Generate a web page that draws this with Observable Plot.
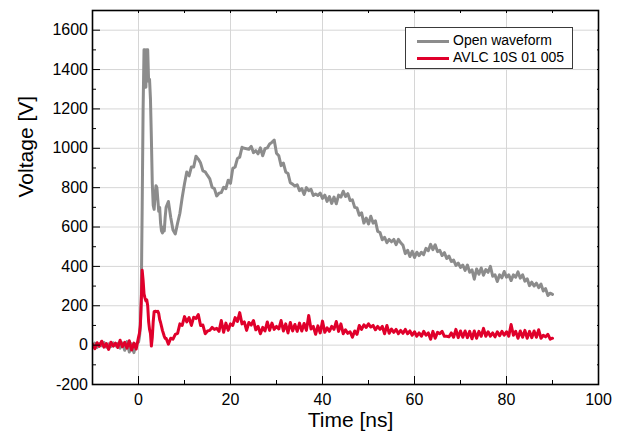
<!DOCTYPE html>
<html><head><meta charset="utf-8">
<script src="https://cdn.jsdelivr.net/npm/d3@7"></script>
<script src="https://cdn.jsdelivr.net/npm/@observablehq/plot@0.6"></script>
<style>
body{margin:0;background:#fff;font-family:"Liberation Sans",Arial,sans-serif;}
#wrap{position:relative;width:624px;height:440px;}
#chart svg{font-family:"Liberation Sans",Arial,sans-serif !important;}
#legend{position:absolute;left:405px;top:27px;width:166px;height:40px;border:1px solid #3a3a3a;background:#fff;font-size:14px;color:#000;}
#legend .row{position:absolute;left:0;height:17px;width:166px;}
#legend .sw{position:absolute;left:11px;width:32px;height:3px;}
#legend .lab{position:absolute;left:47px;white-space:nowrap;line-height:17px;}
</style></head>
<body><div id="wrap"><div id="chart"></div>
<div id="legend">
  <div class="row" style="top:4px"><div class="sw" style="top:8px;background:#8c8c8c"></div><div class="lab" id="lab0" style="top:0"></div></div>
  <div class="row" style="top:21px"><div class="sw" style="top:8px;background:#e0002b"></div><div class="lab" id="lab1" style="top:0"></div></div>
</div></div>
<script>
// time grids (ns)
const preTime = d3.range(-20, 0).map(i => i * 0.5);     // -10 .. -0.5
const spikeTime = d3.range(0, 30).map(i => i * 0.2);    // 0 .. 5.8
const postTime = d3.range(12, 181).map(i => i * 0.5);   // 6 .. 90

const seriesNames = ["Open waveform", "AVLC 10S 01 005"];

const openPre = [-5, 10, -12, 8, -3, 14, -10, 6, -8, 12, -4, 9, -15, 11, -26, 18, -35, 7, -38, 5];
const openSpike = [15, 40, 90, 250, 700, 1200, 1500, 1500, 1310, 1500,
  1500, 1340, 1350, 1250, 1050, 820, 710, 690, 760, 810,
  800, 740, 680, 700, 620, 580, 570, 600, 580, 650];
const openPost = [
  700, 730, 650, 585, 565, 620, 670, 750, 820, 880,
  860, 905, 905, 960, 945, 925, 885, 880, 862, 845,
  802, 795, 758, 772, 775, 802, 795, 838, 822, 898,
  905, 948, 955, 1005, 1000, 998, 995, 1010, 978, 988,
  972, 1002, 962, 998, 1002, 1022, 1030, 1042, 975, 962,
  912, 925, 880, 872, 825, 818, 808, 815, 785, 795,
  765, 800, 785, 792, 760, 768, 760, 772, 745, 762,
  730, 755, 720, 752, 718, 762, 752, 782, 755, 770,
  735, 738, 700, 697, 660, 672, 620, 645, 615, 655,
  620, 632, 578, 572, 535, 548, 520, 537, 525, 537,
  510, 537, 520, 507, 465, 482, 450, 477, 445, 472,
  455, 472, 460, 492, 480, 512, 485, 510, 475, 482,
  455, 470, 440, 452, 425, 432, 405, 417, 395, 407,
  380, 407, 370, 382, 335, 387, 360, 392, 355, 384,
  370, 400, 350, 357, 323, 357, 342, 374, 345, 357,
  328, 357, 345, 372, 340, 357, 325, 337, 302, 320,
  300, 315, 292, 310, 275, 287, 252, 264, 258];

const avlcPre = [5, -18, 12, -6, 20, -10, 8, -22, 15, -5, 10, -12, 25, -8, 14, -15, 22, -25, 10, -20];
const avlcSpike = [40, 60, 100, 220, 380, 330, 260, 240, 225, 230,
  200, 120, 80, 60, -5, 40, 120, 170, 172, 172,
  170, 172, 160, 130, 115, 95, 75, 60, 45, 35];
const avlcPost = [
  35, 5, 35, 30, 55, 60, 108, 100, 145, 118,
  140, 100, 142, 135, 155, 100, 102, 58, 72, 75,
  90, 80, 85, 70, 125, 65, 112, 75, 108, 100,
  140, 120, 165, 108, 118, 75, 115, 102, 125, 78,
  95, 58, 90, 72, 118, 75, 112, 80, 95, 82,
  125, 72, 108, 62, 115, 72, 105, 70, 112, 72,
  110, 75, 150, 82, 95, 55, 98, 62, 122, 65,
  88, 70, 95, 80, 120, 70, 108, 58, 78, 60,
  68, 40, 72, 55, 100, 80, 103, 90, 108, 92,
  100, 78, 95, 80, 95, 58, 100, 60, 82, 65,
  80, 58, 75, 60, 80, 58, 72, 50, 68, 45,
  62, 45, 70, 50, 62, 30, 70, 35, 65, 58,
  70, 45, 45, 42, 62, 40, 80, 38, 72, 40,
  72, 38, 70, 32, 72, 35, 70, 45, 85, 45,
  68, 45, 62, 42, 68, 48, 70, 50, 68, 45,
  105, 50, 70, 35, 72, 40, 75, 35, 70, 38,
  72, 40, 78, 35, 50, 42, 55, 30, 35];

const xMajor = [0, 20, 40, 60, 80, 100];
const xMinor = [10, 30, 50, 70, 90];
const yMajor = [-200, 0, 200, 400, 600, 800, 1000, 1200, 1400, 1600];
const yMinor = [-100, 100, 300, 500, 700, 900, 1100, 1300, 1500];

const timeNs = [...preTime, ...spikeTime, ...postTime];
const openV = [...openPre, ...openSpike, ...openPost];
const avlcV = [...avlcPre, ...avlcSpike, ...avlcPost];
const openData = timeNs.map((t, i) => ({t, v: openV[i]})).filter(d => d.v !== undefined);
const avlcData = timeNs.map((t, i) => ({t, v: avlcV[i]})).filter(d => d.v !== undefined);

document.getElementById("lab0").textContent = seriesNames[0];
document.getElementById("lab1").textContent = seriesNames[1];

const fmt = d => String(d);
const chart = Plot.plot({
  width: 624, height: 440,
  marginLeft: 92, marginRight: 26, marginTop: 10, marginBottom: 56,
  style: {fontFamily: "'Liberation Sans', Arial, sans-serif", fontSize: "16px", color: "#000", background: "#fff"},
  x: {domain: [-10, 100], label: null},
  y: {domain: [-200, 1700], label: null},
  marks: [
    Plot.gridX(xMajor, {stroke: "#d6d6d6", strokeOpacity: 1, strokeWidth: 1}),
    Plot.gridY(yMajor, {stroke: "#d6d6d6", strokeOpacity: 1, strokeWidth: 1}),
    Plot.line(openData, {x: "t", y: "v", stroke: "#8c8c8c", strokeWidth: 3, clip: true}),
    Plot.line(avlcData, {x: "t", y: "v", stroke: "#e0002b", strokeWidth: 3, clip: true}),
    Plot.axisX({ticks: xMajor, anchor: "bottom", tickSize: -8, tickPadding: 17, tickFormat: fmt, label: null, fontSize: 16}),
    Plot.axisX({ticks: xMinor, anchor: "bottom", tickSize: -4, tickFormat: () => "", label: null}),
    Plot.axisY({ticks: yMajor, anchor: "left", tickSize: -8, tickPadding: 12.5, tickFormat: fmt, label: null, fontSize: 16}),
    Plot.axisY({ticks: yMinor, anchor: "left", tickSize: -4, tickFormat: () => "", label: null}),
    Plot.axisX({ticks: [...xMajor, ...xMinor], anchor: "top", tickSize: -2, tickFormat: () => "", label: null}),
    Plot.axisY({ticks: [...yMajor, ...yMinor], anchor: "right", tickSize: -2, tickFormat: () => "", label: null}),
    Plot.frame({stroke: "#000", strokeWidth: 1.6}),
    Plot.text(["Time [ns]"], {frameAnchor: "bottom", dy: 42, dx: 5, fontSize: 21}),
    Plot.text(["Voltage [V]"], {frameAnchor: "left", rotate: -90, dx: -66, fontSize: 21})
  ]
});
document.getElementById("chart").appendChild(chart);
</script>
</body></html>
